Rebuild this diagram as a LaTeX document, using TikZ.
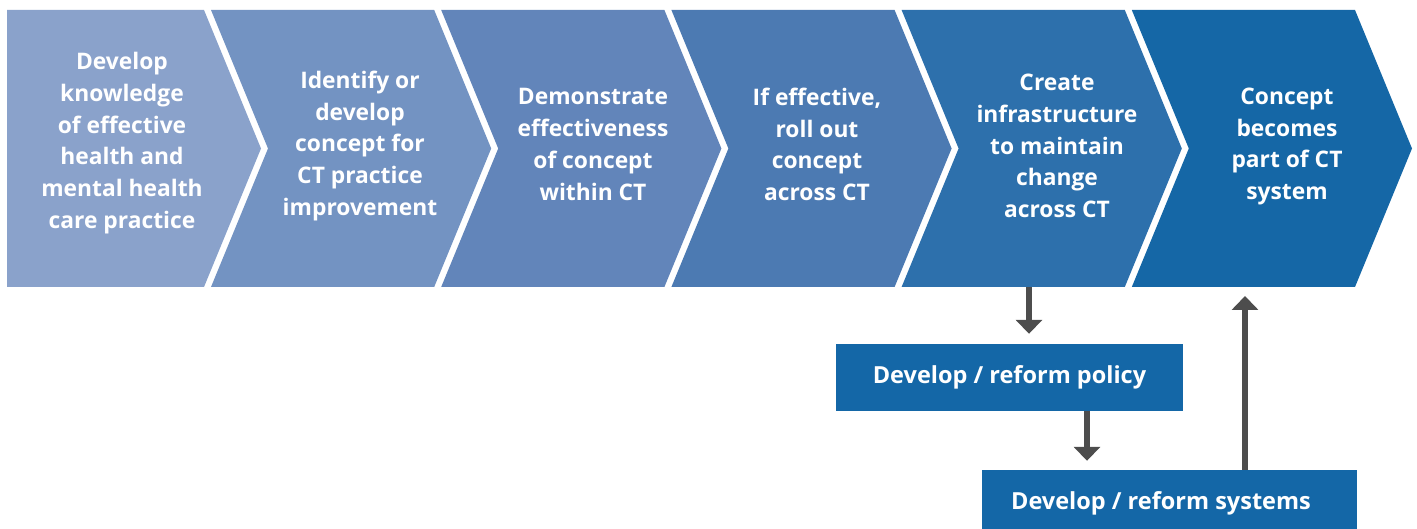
\documentclass[tikz,border=0pt]{standalone}
\usepackage{fontspec}
\setmainfont{Open Sans}
\usetikzlibrary{arrows.meta,calc}
\definecolor{cA}{RGB}{138,162,203}
\definecolor{cB}{RGB}{115,147,194}
\definecolor{cC}{RGB}{98,133,186}
\definecolor{cD}{RGB}{76,122,178}
\definecolor{cE}{RGB}{45,112,172}
\definecolor{cF}{RGB}{21,103,166}
\definecolor{boxblue}{RGB}{20,103,167}
\definecolor{arrgray}{RGB}{77,77,77}
\tikzset{
  steptext/.style={text=white, font=\bfseries\fontsize{22.8}{31.7}\selectfont, align=center, inner sep=0pt},
  boxnode/.style={fill=boxblue, draw=none, inner sep=0pt},
  boxtext/.style={text=white, font=\bfseries\fontsize{23.5}{28}\selectfont, inner sep=0pt},
  flowarrow/.style={draw=arrgray, line width=6pt, -{Triangle[width=26pt,length=14pt]}},
}
\begin{document}
\begin{tikzpicture}[x=1pt,y=-1pt]
\useasboundingbox (0,0) rectangle (1417,529);
\def\T{10}\def\B{287}\def\M{148.5}\def\D{57}
% chevrons
\fill[cA] (7,\T) -- (204,\T) -- (204+\D,\M) -- (204,\B) -- (7,\B) -- cycle;
\foreach \L/\R/\c in {211/434.2/cB, 441.2/664.4/cC, 671.4/894.6/cD, 901.6/1124.8/cE, 1131.8/1355/cF}{
  \fill[\c] (\L,\T) -- (\R,\T) -- (\R+\D,\M) -- (\R,\B) -- (\L,\B) -- (\L+\D,\M) -- cycle;
}
\coordinate (c5bot) at (1029,\B);
\coordinate (c6bot) at (1245,\B);
% chevron texts
\node[steptext] (t1) at (122,143) {Develop\\knowledge\\of effective\\health and\\mental health\\care practice};
\node[steptext] (t2) at (360,146) {Identify or\\develop\\concept for\\CT practice\\improvement};
\node[steptext] (t3) at (593,144.5) {Demonstrate\\effectiveness\\of concept\\within CT};
\node[steptext] (t4) at (817,144.5) {If effective,\\roll out\\concept\\across CT};
\node[steptext] (t5) at (1057,146) {Create\\infrastructure\\to maintain\\change\\across CT};
\node[steptext] (t6) at (1287,146.5) {Concept\\becomes\\part of CT\\system};
% boxes
\node[boxnode, minimum width=347pt, minimum height=67pt] (policy) at (1009.5,377.5) {};
\node[boxtext] (policytxt) at (policy.center) {Develop / reform policy};
\node[boxnode, minimum width=375pt, minimum height=59pt] (systems) at (1169.5,499.5) {};
\node[boxtext] (systemstxt) at (1161,503) {Develop / reform systems};
% arrows
\draw[flowarrow, shorten >=10pt] (c5bot) -- (c5bot |- policy.north);
\draw[flowarrow, shorten >=9pt] (policy.south -| 1087,0) -- (1087,0 |- systems.north);
\draw[flowarrow, shorten >=9pt] (systems.north -| c6bot) -- (c6bot);
\end{tikzpicture}
\end{document}
